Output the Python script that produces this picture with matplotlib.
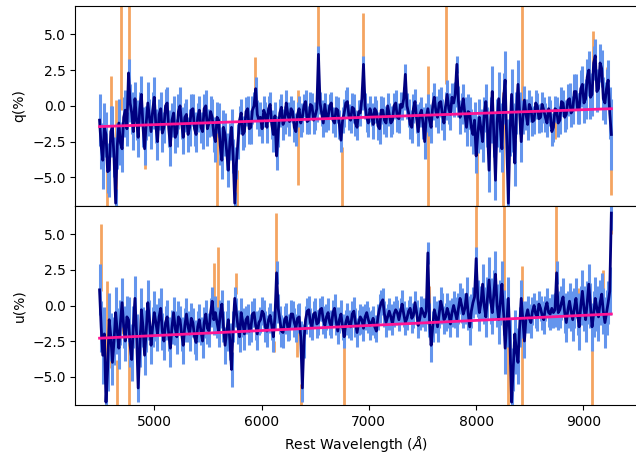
import matplotlib
matplotlib.use('Agg')
import matplotlib.pyplot as plt
import numpy as np

# wavelength grid of the binned spectrum (Angstrom), 15 A bins
wave = np.arange(4490, 9261, 15)

q = [-1.0, -2.8, -3.8, -1.5, -2.0, -4.6, -4.5, -1.8, -1.5, -3.6, -6.8, -2.8, -1.2, -2.6, -3.0, -0.8, -0.3, -1.6, 2.3, 0.2,
     -0.5, -1.8, 0.5, -1.0, -2.2, -0.2, 0.8, -1.5, -3.0, -1.2, 0.2, -0.8, -1.8, -0.3, 0.6, -1.4, -2.5, -0.6, -0.2, -1.9,
     -1.5, 0.0, 0.2, -1.6, -2.8, -1.0, -0.5, -2.2, -1.9, -0.4, 0.0, -1.2, -2.2, -0.8, -0.6, -2.0, -1.5, -0.3, -0.2, -1.6,
     -2.0, -0.8, -0.3, -1.5, -1.8, -0.2, 0.0, -1.6, -1.2, -0.4, -0.8, -2.0, -2.5, -0.8, -1.0, -2.8, -3.8, -1.5, -2.0, -3.2,
     -4.5, -2.5, -1.5, -3.5, -6.8, -4.0, -2.5, -1.0, -0.5, -2.0, -1.8, -0.4, -0.2, -1.6, -1.5, -0.3, 0.0, 1.2, -0.6, -1.0,
     -0.8, -1.6, -0.3, -0.6, -1.5, -0.2, 0.1, -1.3, -2.0, -0.7, -3.5, -1.8, -0.5, -0.1, -1.3, -1.0, 0.2, -0.6, -1.1, -0.2,
     -0.4, -1.5, -1.8, -0.6, -0.2, -1.2, -0.8, 0.0, 0.3, -1.1, -1.0, 0.1, 0.0, -1.0, -0.7, -0.2, 3.6, 0.2, -0.5, -1.2,
     0.1, -0.9, -0.8, 0.0, 0.2, -1.0, -1.2, -0.2, -0.3, -1.3, -2.4, -1.0, -0.5, 0.2, 0.3, -0.8, -1.0, -0.1, -0.2, -1.2,
     -1.5, -0.4, -0.5, 0.5, 2.9, 0.0, -0.8, -1.2, -0.2, -0.6, -1.3, -0.2, -0.4, -1.4, -1.6, -0.3, -0.3, -1.0, -1.2, 0.0,
     -0.6, -1.2, -1.0, 0.0, 0.2, -0.8, -0.9, 0.1, -0.1, 0.5, 2.2, 0.0, -0.5, -1.3, -1.5, -0.2, 0.3, -0.9, -1.8, -0.6,
     -0.3, -1.2, -2.5, -0.8, -0.2, -1.0, -1.5, 0.0, 0.6, -0.4, -0.8, 0.2, 0.3, -0.6, -1.2, 0.0, 0.8, -0.2, -0.6, 0.6,
     0.2, 0.8, 2.9, 0.3, -0.8, -0.2, 0.5, -0.6, -1.5, -0.4, -0.5, -1.5, -2.0, -1.0, -3.5, -2.0, -0.8, -1.6, -2.5, -0.6,
     0.3, -1.5, -4.5, -1.0, 1.0, -2.0, -5.2, -1.2, 0.5, -1.5, -3.0, 0.5, 1.8, -2.5, -6.8, -2.0, 0.8, -1.5, -4.0, -0.5,
     1.5, -0.5, -2.5, -0.8, 0.4, -0.6, -1.3, 0.1, -0.2, -1.1, -1.0, 0.2, 0.0, -0.9, -0.8, 0.1, -0.3, -0.8, -1.2, -0.2,
     -0.5, -1.8, -1.5, -0.2, -0.3, -1.2, -1.0, 0.3, 0.2, -0.8, -0.6, 0.4, 0.5, -0.5, -0.3, 1.0, 1.0, -0.2, -0.2, 1.2,
     1.5, 0.2, 0.5, 2.0, 2.5, 0.6, 0.8, 3.0, 3.5, 1.0, 1.2, 3.0, 2.6, 0.5, 0.2, 1.2, 1.8, -0.5, -2.0]

qerr = [1.8, 1.6, 2.0, 1.7, 1.6, 1.5, 1.9, 1.8, 1.5, 1.4, 1.0, 1.6, 1.7, 1.5, 1.6, 1.4, 1.4, 1.2, 1.0, 1.3,
        1.5, 1.3, 1.2, 1.4, 1.4, 1.2, 1.3, 1.4, 1.1, 1.2, 1.5, 1.3, 1.2, 1.3, 1.4, 1.2, 1.3, 1.1, 1.2, 1.3,
        1.1, 1.2, 1.1, 1.3, 1.4, 1.2, 1.2, 1.1, 1.0, 1.2, 1.3, 1.1, 1.2, 1.0, 1.1, 1.2, 1.3, 1.1, 1.0, 1.2,
        1.2, 1.0, 1.0, 1.1, 1.2, 1.0, 1.1, 1.2, 1.0, 1.1, 1.3, 1.2, 1.4, 1.1, 1.2, 1.3, 1.3, 1.2, 1.5, 1.3,
        1.2, 1.3, 1.3, 1.2, 0.8, 1.1, 1.2, 1.0, 1.0, 1.1, 1.1, 1.0, 0.9, 1.1, 1.2, 1.0, 1.0, 0.8, 1.0, 1.1,
        1.1, 1.0, 1.0, 0.9, 1.1, 0.9, 0.9, 1.0, 1.2, 1.0, 1.0, 1.1, 1.0, 0.9, 1.1, 1.0, 0.9, 0.9, 1.0, 0.9,
        0.8, 1.0, 1.0, 0.9, 0.9, 1.0, 1.0, 0.8, 0.8, 0.9, 1.0, 0.9, 0.9, 1.0, 1.0, 0.9, 0.6, 0.8, 0.9, 1.0,
        0.8, 0.9, 0.9, 0.8, 0.8, 0.9, 1.0, 0.9, 0.9, 1.0, 0.8, 0.9, 1.0, 0.9, 1.0, 0.9, 0.9, 1.0, 1.0, 0.9,
        0.9, 0.8, 0.9, 0.8, 0.6, 0.9, 1.0, 1.0, 0.9, 0.8, 1.0, 0.9, 0.8, 1.0, 1.1, 1.0, 0.9, 1.0, 1.0, 0.9,
        0.8, 1.0, 1.0, 0.9, 0.9, 1.0, 1.0, 0.9, 0.9, 0.8, 0.7, 0.9, 1.0, 1.0, 1.1, 1.0, 0.9, 1.0, 1.0, 0.9,
        0.9, 1.1, 1.2, 1.0, 1.0, 1.1, 1.1, 1.0, 1.0, 1.1, 1.1, 1.0, 1.0, 1.1, 1.2, 1.0, 1.0, 1.1, 1.1, 1.0,
        1.0, 0.9, 0.6, 1.1, 1.2, 1.1, 1.0, 1.2, 1.3, 1.2, 1.1, 1.3, 1.4, 1.3, 1.2, 1.3, 1.3, 1.4, 1.4, 1.2,
        1.2, 1.4, 1.5, 1.6, 1.8, 1.6, 1.4, 1.7, 1.9, 1.7, 1.6, 1.8, 2.0, 1.6, 1.0, 1.5, 1.8, 1.7, 1.6, 1.5,
        1.7, 1.5, 1.4, 1.2, 1.0, 1.1, 1.1, 1.0, 0.9, 1.0, 1.0, 0.9, 0.9, 1.0, 1.0, 0.9, 0.9, 1.0, 1.0, 0.9,
        0.9, 1.0, 1.0, 0.9, 0.9, 1.0, 1.0, 1.0, 0.9, 1.0, 1.0, 1.1, 1.1, 1.0, 1.0, 1.2, 1.2, 1.1, 1.1, 1.3,
        1.3, 1.4, 1.4, 1.3, 1.3, 1.5, 1.5, 1.2, 1.2, 1.4, 1.4, 1.3, 1.3, 1.5, 1.5, 1.4, 1.4, 1.8, 2.5]

u = [1.1, -1.5, -3.5, -2.0, -6.8, -4.5, -1.0, -2.2, -4.0, -2.5, -0.5, -1.8, -3.0, -1.2, 0.2, -1.5, -2.5, -0.8, -1.0, -2.8,
     -3.8, -1.5, 0.5, -2.0, -5.8, -3.0, -0.3, -1.5, -3.5, -1.8, 0.2, -1.0, -2.8, -1.5, -0.5, -1.2, -2.0, -0.8, -0.2, -1.8,
     -2.5, -1.2, -0.8, -2.0, -3.0, -1.5, -0.5, -1.6, -2.2, -0.8, -1.0, -2.0, -2.8, -1.4, -0.6, -1.5, -2.0, -0.9, -1.2, -2.2,
     -2.6, -1.5, -1.0, -1.8, -2.5, -1.2, -0.6, -1.6, -1.8, -0.5, 0.3, -1.0, -0.5, -1.2, -1.8, -0.6, 0.1, -1.5, -2.8, -1.8,
     -1.0, -2.5, -4.5, -1.5, 0.5, -0.5, -1.5, -2.2, -0.5, -1.2, -2.0, -1.0, -0.8, -1.8, -1.6, -0.6, -0.5, -1.4, -2.0, -1.2,
     -1.0, -0.4, -0.6, -1.5, -1.8, -1.0, -0.7, -1.4, -2.2, -0.8, 2.3, -0.2, -1.0, -1.8, -1.9, -1.0, -0.8, -1.6, -1.5, -0.6,
     -0.6, -1.2, -1.6, -0.9, -0.8, -2.2, -5.8, -2.5, -1.0, -0.4, -0.3, -1.2, -1.5, -0.6, -0.5, -1.3, -1.2, -0.3, -0.2, -1.0,
     -1.4, -0.8, -0.5, -1.2, -1.5, -0.5, -0.2, -1.1, -1.8, -1.0, -0.6, -1.5, -2.2, -1.2, -0.8, -1.3, -1.5, -0.6, -0.4, -1.2,
     -1.9, -1.2, -0.8, -1.0, -1.6, -0.8, -0.5, -1.0, -1.4, -1.2, -0.9, -1.5, -1.8, -0.8, -0.2, 0.2, 0.4, -0.6, -1.2, -0.8,
     -0.4, -0.8, -1.3, -0.6, -0.3, -0.5, -1.0, -0.4, 0.1, -0.6, -1.2, -0.9, -0.4, -0.2, -0.9, -0.7, 0.2, -0.5, -1.4, -0.9,
     -0.2, -0.5, -0.8, -0.4, 3.7, -1.0, -2.8, -1.5, -0.3, -0.8, -1.5, -0.6, 0.3, -0.2, -1.0, -0.8, -0.2, -0.6, -1.3, -0.5,
     0.0, -0.5, -1.0, -0.2, 0.5, 0.0, -0.6, -0.2, 0.8, -0.5, -1.5, -0.4, 0.2, 0.6, 3.3, 0.5, -0.5, 0.2, 1.5, 0.0,
     -0.8, 0.5, 1.8, 0.3, -0.5, 0.8, 2.2, 0.0, -1.0, 0.2, 1.5, -0.5, -3.0, -1.2, 0.5, -2.5, -6.8, -4.5, -2.0, -3.2,
     -4.0, -1.5, 0.5, -1.0, -2.5, -0.8, -0.3, -0.9, -1.2, -0.4, 0.0, -0.6, -0.8, 0.1, -0.2, -0.7, -1.0, -0.2, 0.2, -0.5,
     -0.6, -0.2, -0.5, -0.3, 2.3, -0.5, -0.3, 0.2, 0.6, -0.5, -1.2, -0.3, 0.3, -0.4, -1.0, -0.2, 0.5, -0.6, -1.5, 0.0,
     1.0, -0.2, -1.0, 0.2, 1.5, 0.0, -1.5, -0.6, 0.5, -0.2, -0.8, 0.2, 0.8, -0.4, -1.2, -0.5, 0.2, 1.0, 6.5]

uerr = [1.8, 1.8, 2.0, 1.9, 1.2, 1.5, 1.9, 1.7, 1.6, 1.7, 1.8, 1.6, 1.5, 1.6, 1.7, 1.5, 1.4, 1.5, 1.6, 1.5,
        1.5, 1.5, 1.6, 1.4, 1.0, 1.3, 1.5, 1.4, 1.4, 1.5, 1.6, 1.4, 1.3, 1.4, 1.5, 1.3, 1.2, 1.3, 1.4, 1.3,
        1.3, 1.2, 1.2, 1.2, 1.3, 1.2, 1.1, 1.2, 1.2, 1.1, 1.0, 1.2, 1.3, 1.2, 1.1, 1.1, 1.2, 1.1, 1.0, 1.2,
        1.2, 1.1, 1.1, 1.0, 1.2, 1.1, 1.0, 1.1, 1.1, 1.0, 1.0, 1.1, 1.2, 1.1, 1.1, 1.0, 1.0, 1.1, 1.3, 1.4,
        1.4, 1.3, 1.2, 1.1, 0.8, 1.0, 1.2, 1.1, 1.0, 1.0, 1.1, 1.0, 0.9, 1.0, 1.0, 0.9, 1.0, 1.0, 1.1, 0.9,
        0.9, 1.0, 1.0, 1.1, 1.1, 0.9, 0.9, 1.0, 1.1, 0.9, 0.8, 1.0, 1.0, 1.1, 1.1, 1.0, 1.0, 0.9, 0.9, 1.0,
        0.9, 1.0, 1.0, 1.0, 1.0, 1.1, 1.0, 1.2, 1.0, 0.9, 1.0, 1.0, 0.9, 0.9, 1.0, 1.0, 0.9, 0.8, 0.9, 1.0,
        0.9, 0.9, 1.0, 0.9, 0.8, 0.9, 1.0, 1.0, 0.9, 0.9, 1.0, 0.9, 0.8, 0.9, 1.0, 1.0, 0.9, 0.9, 1.0, 1.0,
        1.0, 0.9, 0.9, 1.0, 0.9, 0.9, 0.8, 0.9, 1.0, 0.9, 0.9, 0.8, 0.8, 0.9, 1.0, 0.9, 0.8, 0.9, 1.0, 0.9,
        0.9, 0.9, 0.8, 0.9, 1.0, 0.9, 0.8, 0.9, 1.0, 0.9, 0.9, 0.8, 0.8, 0.9, 1.0, 0.9, 0.8, 0.9, 0.9, 0.8,
        0.9, 1.0, 1.0, 0.9, 0.8, 1.2, 1.2, 1.1, 1.0, 1.1, 1.1, 1.0, 1.0, 1.1, 1.0, 1.0, 1.1, 1.0, 0.9, 1.0,
        1.0, 1.1, 1.2, 1.1, 1.1, 1.2, 1.0, 1.1, 1.2, 1.2, 1.3, 1.2, 1.1, 1.2, 0.8, 1.3, 1.3, 1.2, 1.4, 1.3,
        1.4, 1.5, 1.6, 1.6, 1.5, 1.7, 1.6, 1.5, 1.7, 1.6, 1.6, 1.6, 1.8, 1.7, 1.5, 1.6, 0.8, 1.5, 1.7, 1.6,
        1.5, 1.4, 1.3, 1.3, 1.2, 1.1, 1.0, 1.0, 1.1, 1.0, 0.9, 1.0, 1.0, 0.9, 0.9, 1.0, 1.0, 0.9, 1.0, 1.0,
        1.1, 1.0, 1.1, 1.2, 0.8, 1.2, 1.3, 1.2, 1.3, 1.4, 1.4, 1.3, 1.3, 1.4, 1.5, 1.4, 1.4, 1.5, 1.6, 1.4,
        1.5, 1.6, 1.6, 1.5, 1.4, 1.6, 1.7, 1.6, 1.5, 1.6, 1.7, 1.6, 1.5, 1.6, 1.8, 1.6, 1.5, 1.7, 1.2]

# flagged bins with huge error bars (drawn orange, underneath)
q_bad_w  = [4562, 4597, 4640, 4687, 4767, 4914, 5587, 5768, 5939, 6337, 6529,
            6747, 6943, 7554, 7719, 8005, 8253, 8425, 8735, 9092, 9217, 9254]
q_bad_lo = [-7.5, -1.7, -7.5, -0.3, 2.0, -4.4, -7.5, -7.5, 1.0, -5.5, 3.5,
            -7.5, 3.0, -7.5, 1.5, -7.5, -7.5, 0.3, -2.3, 2.6, 1.0, -6.2]
q_bad_hi = [-4.4, 2.1, 0.4, 7.5, 7.5, -2.9, -0.5, -4.5, 3.4, 1.1, 7.5,
            -2.9, 6.5, 2.8, 7.5, -1.0, 1.0, 7.5, -0.5, 5.2, 2.7, -3.0]

u_bad_w  = [4501, 4562, 4581, 4650, 4696, 4767, 4904, 5560, 5591, 5759, 6116,
            6135, 6333, 6368, 6768, 7563, 7996, 8260, 8294, 8425, 8744, 8949,
            9077, 9185, 9254]
u_bad_lo = [1.0, -4.8, -4.4, -7.5, -2.0, -7.5, -3.4, -0.5, -1.7, 0.8, -3.3,
            2.0, -3.6, -7.5, -7.5, -1.0, 3.0, -1.5, -7.5, -7.5, 2.0, -0.3,
            -7.5, 0.7, 5.0]
u_bad_hi = [5.7, 1.7, -2.2, -3.8, 0.3, -2.6, -2.0, 3.0, 4.1, 2.3, -2.5,
            6.5, -1.6, -5.5, -2.4, 1.4, 7.5, 7.5, -1.5, 2.8, 7.5, 1.2,
            -1.5, 2.5, 7.5]

# linear fits (value at first and last wavelength)
fit_w = [4490, 9260]
q_fit = [-1.45, -0.2]
u_fit = [-2.3, -0.6]

fig = plt.figure(figsize=(6.36, 4.58), dpi=100)
ax1 = fig.add_axes([75.3/636, 1-206/458, (637-75.3)/636, 200.3/458])
ax2 = fig.add_axes([75.3/636, 1-405/458, (637-75.3)/636, 199/458], sharex=ax1)

panels = [(ax1, q, qerr, q_bad_w, q_bad_lo, q_bad_hi, q_fit, 'q(%)'),
          (ax2, u, uerr, u_bad_w, u_bad_lo, u_bad_hi, u_fit, 'u(%)')]

for ax, val, err, bw, blo, bhi, fit, lab in panels:
    ax.vlines(bw, blo, bhi, color='sandybrown', lw=2, zorder=1)
    ax.errorbar(wave, val, yerr=err, fmt='none', ecolor='cornflowerblue',
                elinewidth=2.2, zorder=2)
    ax.plot(wave, val, color='navy', lw=2.0, zorder=3)
    ax.plot(fit_w, fit, color='deeppink', lw=2, zorder=4)
    ax.set_ylim(-7, 7)
    ax.set_yticks([-5, -2.5, 0, 2.5, 5])
    ax.set_ylabel(lab)

ax1.set_xlim(4264, 9499)
ax1.tick_params(labelbottom=False)
ax2.set_xlabel(r'Rest Wavelength ($\AA$)')

plt.savefig('out.png', dpi=100)
